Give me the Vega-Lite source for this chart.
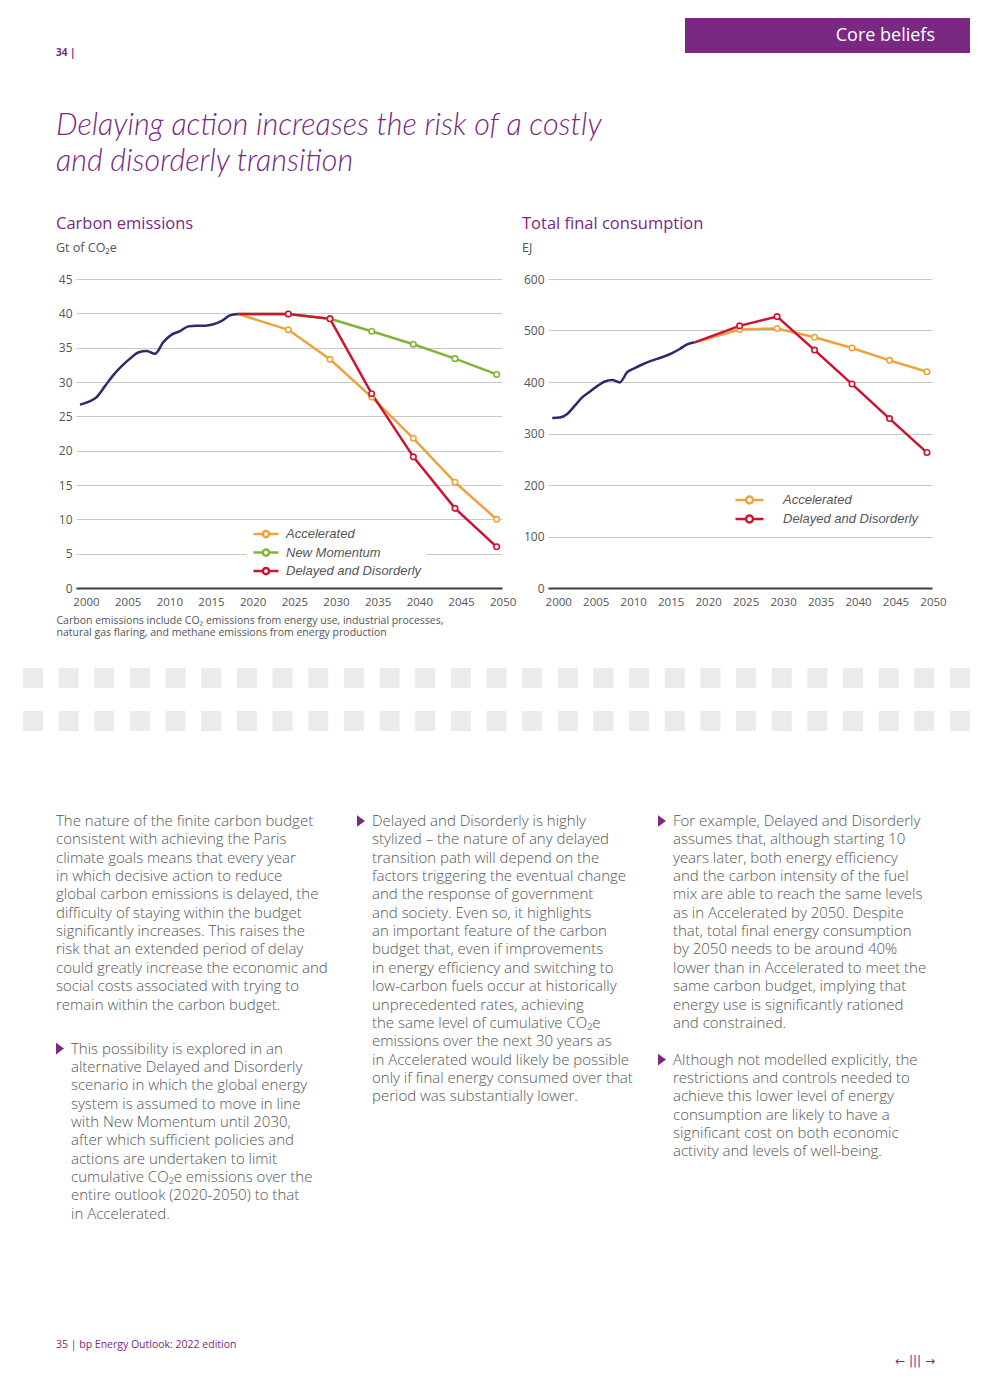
{
  "$schema": "https://vega.github.io/schema/vega-lite/v6.json",
  "background": "white",
  "padding": {"top": 18, "left": 0, "right": 0, "bottom": 0},
  "columns": 6,
  "spacing": 0,
  "bounds": "flush",
  "align": "each",
  "resolve": {"scale": {"color": "independent"}, "legend": {"color": "independent"}},
  "config": {"view": {"stroke": null}, "font": "Open Sans"},
  "concat": [
    {"width": 56, "height": 1, "data": {"values": []}, "mark": "text"},
    {"width": 20, "height": 1, "data": {"values": []}, "mark": "text"},
    {"width": 472, "height": 1, "data": {"values": []}, "mark": "text"},
    {"width": 137, "height": 1, "data": {"values": []}, "mark": "text"},
    {"width": 250, "height": 35, "view": {"fill": "#7a2982"}, "data": {"values": [{"label": "Core beliefs"}]},
     "mark": {"type": "text", "align": "right", "baseline": "middle", "font": "Open Sans", "fontSize": 18, "color": "white"},
     "encoding": {"text": {"field": "label"}, "x": {"value": "width"}, "y": {"field": "label", "type": "nominal", "axis": null}}},
    {"width": 35, "height": 35, "view": {"fill": "#7a2982"}, "data": {"values": []}, "mark": "text"},

    {"width": 1, "height": 58, "data": {"values": []}, "mark": "text"},
    {"width": 20, "height": 1, "data": {"values": [{"label": "34 |"}]},
     "mark": {"type": "text", "align": "left", "baseline": "middle", "font": "Open Sans", "fontSize": 10, "fontWeight": "bold", "color": "#7a2982"},
     "encoding": {"text": {"field": "label"}, "x": {"value": 0}, "y": {"value": 0}}},
    {"width": 1, "height": 1, "data": {"values": []}, "mark": "text"},
    {"width": 1, "height": 1, "data": {"values": []}, "mark": "text"},
    {"width": 1, "height": 1, "data": {"values": []}, "mark": "text"},
    {"width": 1, "height": 1, "data": {"values": []}, "mark": "text"},

    {"width": 1, "height": 168, "data": {"values": []}, "mark": "text"},
    {"width": 20, "height": 1, "data": {"values": [{"lines": ["Delaying action increases the risk of a costly", "and disorderly transition"]}]},
     "mark": {"type": "text", "align": "left", "baseline": "top", "font": "Lato", "fontStyle": "italic", "fontWeight": 300, "fontSize": 30.5, "lineHeight": 35.5, "color": "#7a2982"},
     "encoding": {"text": {"field": "lines"}, "x": {"value": 0}, "y": {"value": 0}}},
    {"width": 1, "height": 1, "data": {"values": []}, "mark": "text"},
    {"width": 1, "height": 1, "data": {"values": []}, "mark": "text"},
    {"width": 1, "height": 1, "data": {"values": []}, "mark": "text"},
    {"width": 1, "height": 1, "data": {"values": []}, "mark": "text"},

    {"width": 1, "height": 1, "data": {"values": []}, "mark": "text"},
    {"width": 1, "height": 1, "data": {"values": []}, "mark": "text"},
    {
      "width": 426, "height": 309,
      "title": {"text": "Carbon emissions", "subtitle": "Gt of CO₂e", "anchor": "start", "frame": "group", "dx": -20, "offset": 19, "font": "Open Sans", "fontSize": 16.5, "fontWeight": "normal", "color": "#7a2982", "subtitleFont": "Open Sans", "subtitleFontSize": 12.5, "subtitleColor": "#555555", "subtitlePadding": 9},
      "data": {"values": [
        {"series": "History", "year": 2000, "value": 26.7}, {"series": "History", "year": 2001, "value": 27.1}, {"series": "History", "year": 2002, "value": 27.8}, {"series": "History", "year": 2003, "value": 29.4}, {"series": "History", "year": 2004, "value": 31.0}, {"series": "History", "year": 2005, "value": 32.3}, {"series": "History", "year": 2006, "value": 33.4}, {"series": "History", "year": 2007, "value": 34.3}, {"series": "History", "year": 2008, "value": 34.5}, {"series": "History", "year": 2009, "value": 34.1}, {"series": "History", "year": 2010, "value": 35.8}, {"series": "History", "year": 2011, "value": 36.9}, {"series": "History", "year": 2012, "value": 37.4}, {"series": "History", "year": 2013, "value": 38.1}, {"series": "History", "year": 2014, "value": 38.2}, {"series": "History", "year": 2015, "value": 38.2}, {"series": "History", "year": 2016, "value": 38.4}, {"series": "History", "year": 2017, "value": 38.9}, {"series": "History", "year": 2018, "value": 39.7}, {"series": "History", "year": 2019, "value": 39.9},
        {"series": "New Momentum", "year": 2019, "value": 39.9}, {"series": "New Momentum", "year": 2025, "value": 39.9}, {"series": "New Momentum", "year": 2030, "value": 39.2}, {"series": "New Momentum", "year": 2035, "value": 37.4}, {"series": "New Momentum", "year": 2040, "value": 35.5}, {"series": "New Momentum", "year": 2045, "value": 33.4}, {"series": "New Momentum", "year": 2050, "value": 31.1},
        {"series": "Accelerated", "year": 2019, "value": 39.9}, {"series": "Accelerated", "year": 2025, "value": 37.6}, {"series": "Accelerated", "year": 2030, "value": 33.3}, {"series": "Accelerated", "year": 2035, "value": 27.8}, {"series": "Accelerated", "year": 2040, "value": 21.8}, {"series": "Accelerated", "year": 2045, "value": 15.4}, {"series": "Accelerated", "year": 2050, "value": 10.0},
        {"series": "Delayed and Disorderly", "year": 2019, "value": 39.9}, {"series": "Delayed and Disorderly", "year": 2025, "value": 39.9}, {"series": "Delayed and Disorderly", "year": 2030, "value": 39.2}, {"series": "Delayed and Disorderly", "year": 2035, "value": 28.3}, {"series": "Delayed and Disorderly", "year": 2040, "value": 19.1}, {"series": "Delayed and Disorderly", "year": 2045, "value": 11.6}, {"series": "Delayed and Disorderly", "year": 2050, "value": 6.0}
      ]},
      "encoding": {
        "x": {"field": "year", "type": "quantitative", "scale": {"domain": [1999.52, 2050.64], "nice": false, "zero": false},
          "axis": {"values": [2000, 2005, 2010, 2015, 2020, 2025, 2030, 2035, 2040, 2045, 2050], "format": "d", "grid": false, "ticks": false, "labelFlush": false, "labelOverlap": false, "labelOffset": 6, "labelPadding": 8, "labelFont": "Open Sans", "labelFontSize": 11.5, "labelColor": "#555555", "domainColor": "#3c3c3c", "domainWidth": 2,
            "title": ["Carbon emissions include CO₂ emissions from energy use, industrial processes,", "natural gas flaring, and methane emissions from energy production"],
            "titleFont": "Open Sans", "titleFontSize": 10.5, "titleFontWeight": "normal", "titleColor": "#555555", "titleAlign": "left", "titleAnchor": "start", "titleX": -20, "titleY": 27, "titleBaseline": "top", "titleLineHeight": 12}},
        "y": {"field": "value", "type": "quantitative", "scale": {"domain": [0, 45], "nice": false},
          "axis": {"values": [0, 5, 10, 15, 20, 25, 30, 35, 40, 45], "ticks": false, "domain": false, "gridColor": "#c9c9c9", "gridWidth": 1, "labelPadding": 4, "labelFont": "Open Sans", "labelFontSize": 12, "labelColor": "#555555", "title": null}}
      },
      "layer": [
        {"data": {"values": [{"year": 2019}]}, "mark": {"type": "rule", "color": "#333333", "strokeWidth": 1, "strokeDash": [4, 3]}, "encoding": {"y": {"datum": 0}, "y2": {"datum": 45}}},
        {"transform": [{"filter": "datum.series === 'History'"}], "mark": {"type": "line", "color": "#2f2a6b", "strokeWidth": 2.5, "interpolate": "monotone"}},
        {"transform": [{"filter": "datum.series !== 'History'"}], "mark": {"type": "line", "strokeWidth": 2.5},
         "encoding": {"color": {"field": "series", "type": "nominal",
           "scale": {"domain": ["Accelerated", "New Momentum", "Delayed and Disorderly"], "range": ["#f0a23a", "#7fb636", "#cc1332"]},
           "legend": {"title": null, "orient": "none", "legendX": 171, "legendY": 242, "direction": "vertical", "fillColor": "white", "padding": 5,
             "symbolType": "M-1,0H-0.25M0.25,0H1M0.25,0A0.25,0.25,0,1,1,-0.25,0A0.25,0.25,0,1,1,0.25,0", "symbolSize": 625, "symbolStrokeWidth": 2.5, "symbolFillColor": "white",
             "labelFont": "Liberation Sans", "labelFontStyle": "italic", "labelFontSize": 13, "labelColor": "#555555", "labelOffset": 6, "clipHeight": 16, "rowPadding": 2.5}}}},
        {"transform": [{"filter": "datum.series !== 'History' && datum.year >= 2025"}], "mark": {"type": "point", "filled": false, "fill": "white", "size": 30, "strokeWidth": 1.6, "opacity": 1},
         "encoding": {"color": {"field": "series", "type": "nominal"}}}
      ]
    },
    {
      "width": 137, "height": 309,
      "title": {"text": "Total final consumption", "subtitle": "EJ", "anchor": "start", "frame": "group", "dx": -26, "offset": 19, "font": "Open Sans", "fontSize": 16.5, "fontWeight": "normal", "color": "#7a2982", "subtitleFont": "Open Sans", "subtitleFontSize": 12.5, "subtitleColor": "#555555", "subtitlePadding": 9},
      "data": {"values": [
        {"series": "History", "year": 2000, "value": 330}, {"series": "History", "year": 2001, "value": 331}, {"series": "History", "year": 2002, "value": 338}, {"series": "History", "year": 2003, "value": 354}, {"series": "History", "year": 2004, "value": 370}, {"series": "History", "year": 2005, "value": 381}, {"series": "History", "year": 2006, "value": 392}, {"series": "History", "year": 2007, "value": 401}, {"series": "History", "year": 2008, "value": 404}, {"series": "History", "year": 2009, "value": 399}, {"series": "History", "year": 2010, "value": 419}, {"series": "History", "year": 2011, "value": 427}, {"series": "History", "year": 2012, "value": 434}, {"series": "History", "year": 2013, "value": 440}, {"series": "History", "year": 2014, "value": 445}, {"series": "History", "year": 2015, "value": 450}, {"series": "History", "year": 2016, "value": 456}, {"series": "History", "year": 2017, "value": 464}, {"series": "History", "year": 2018, "value": 473}, {"series": "History", "year": 2019, "value": 477},
        {"series": "Accelerated", "year": 2019, "value": 477}, {"series": "Accelerated", "year": 2025, "value": 502}, {"series": "Accelerated", "year": 2030, "value": 504}, {"series": "Accelerated", "year": 2035, "value": 487}, {"series": "Accelerated", "year": 2040, "value": 466}, {"series": "Accelerated", "year": 2045, "value": 442}, {"series": "Accelerated", "year": 2050, "value": 420},
        {"series": "Delayed and Disorderly", "year": 2019, "value": 477}, {"series": "Delayed and Disorderly", "year": 2025, "value": 509}, {"series": "Delayed and Disorderly", "year": 2030, "value": 527}, {"series": "Delayed and Disorderly", "year": 2035, "value": 462}, {"series": "Delayed and Disorderly", "year": 2040, "value": 396}, {"series": "Delayed and Disorderly", "year": 2045, "value": 329}, {"series": "Delayed and Disorderly", "year": 2050, "value": 263}
      ]},
      "encoding": {
        "x": {"field": "year", "type": "quantitative", "scale": {"domain": [1999.43, 2050.67], "range": [0, 384], "nice": false, "zero": false},
          "axis": {"values": [2000, 2005, 2010, 2015, 2020, 2025, 2030, 2035, 2040, 2045, 2050], "format": "d", "grid": false, "ticks": false, "labelFlush": false, "labelOverlap": false, "labelOffset": 6, "labelPadding": 8, "labelFont": "Open Sans", "labelFontSize": 11.5, "labelColor": "#555555", "domainColor": "#3c3c3c", "domainWidth": 2, "title": null}},
        "y": {"field": "value", "type": "quantitative", "scale": {"domain": [0, 600], "nice": false},
          "axis": {"values": [0, 100, 200, 300, 400, 500, 600], "ticks": false, "domain": false, "gridColor": "#c9c9c9", "gridWidth": 1, "labelPadding": 4, "labelFont": "Open Sans", "labelFontSize": 12, "labelColor": "#555555", "title": null}}
      },
      "layer": [
        {"data": {"values": [{"year": 2019}]}, "mark": {"type": "rule", "color": "#333333", "strokeWidth": 1, "strokeDash": [4, 3]}, "encoding": {"y": {"datum": 0}, "y2": {"datum": 600}}},
        {"transform": [{"filter": "datum.series === 'History'"}], "mark": {"type": "line", "color": "#2f2a6b", "strokeWidth": 2.5, "interpolate": "monotone"}},
        {"transform": [{"filter": "datum.series !== 'History'"}], "mark": {"type": "line", "strokeWidth": 2.5},
         "encoding": {"color": {"field": "series", "type": "nominal",
           "scale": {"domain": ["Accelerated", "Delayed and Disorderly"], "range": ["#f0a23a", "#cc1332"]},
           "legend": {"title": null, "orient": "none", "legendX": 181, "legendY": 208, "direction": "vertical", "fillColor": "white", "padding": 5,
             "symbolType": "M-1,0H-0.25M0.25,0H1M0.25,0A0.25,0.25,0,1,1,-0.25,0A0.25,0.25,0,1,1,0.25,0", "symbolSize": 784, "symbolStrokeWidth": 2.5, "symbolFillColor": "white",
             "labelFont": "Liberation Sans", "labelFontStyle": "italic", "labelFontSize": 13, "labelColor": "#555555", "labelOffset": 18, "clipHeight": 16, "rowPadding": 3}}}},
        {"transform": [{"filter": "datum.series !== 'History' && datum.year >= 2025"}], "mark": {"type": "point", "filled": false, "fill": "white", "size": 30, "strokeWidth": 1.6, "opacity": 1},
         "encoding": {"color": {"field": "series", "type": "nominal"}}}
      ]
    },
    {"width": 1, "height": 1, "data": {"values": []}, "mark": "text"},
    {"width": 1, "height": 1, "data": {"values": []}, "mark": "text"},

    {"width": 1, "height": 80, "data": {"values": []}, "mark": "text"},
    {"width": 1, "height": 1, "data": {"values": []}, "mark": "text"},
    {"width": 1, "height": 1, "data": {"values": []}, "mark": "text"},
    {"width": 1, "height": 1, "data": {"values": []}, "mark": "text"},
    {"width": 1, "height": 1, "data": {"values": []}, "mark": "text"},
    {"width": 1, "height": 1, "data": {"values": []}, "mark": "text"},

    {"width": 56, "height": 63,
     "data": {"values": [
       {"i": 1, "r": 1}, {"i": 2, "r": 1}, {"i": 3, "r": 1}, {"i": 4, "r": 1}, {"i": 5, "r": 1}, {"i": 6, "r": 1}, {"i": 7, "r": 1}, {"i": 8, "r": 1}, {"i": 9, "r": 1}, {"i": 10, "r": 1}, {"i": 11, "r": 1}, {"i": 12, "r": 1}, {"i": 13, "r": 1}, {"i": 14, "r": 1}, {"i": 15, "r": 1}, {"i": 16, "r": 1}, {"i": 17, "r": 1}, {"i": 18, "r": 1}, {"i": 19, "r": 1}, {"i": 20, "r": 1}, {"i": 21, "r": 1}, {"i": 22, "r": 1}, {"i": 23, "r": 1}, {"i": 24, "r": 1}, {"i": 25, "r": 1}, {"i": 26, "r": 1}, {"i": 27, "r": 1},
       {"i": 1, "r": 2}, {"i": 2, "r": 2}, {"i": 3, "r": 2}, {"i": 4, "r": 2}, {"i": 5, "r": 2}, {"i": 6, "r": 2}, {"i": 7, "r": 2}, {"i": 8, "r": 2}, {"i": 9, "r": 2}, {"i": 10, "r": 2}, {"i": 11, "r": 2}, {"i": 12, "r": 2}, {"i": 13, "r": 2}, {"i": 14, "r": 2}, {"i": 15, "r": 2}, {"i": 16, "r": 2}, {"i": 17, "r": 2}, {"i": 18, "r": 2}, {"i": 19, "r": 2}, {"i": 20, "r": 2}, {"i": 21, "r": 2}, {"i": 22, "r": 2}, {"i": 23, "r": 2}, {"i": 24, "r": 2}, {"i": 25, "r": 2}, {"i": 26, "r": 2}, {"i": 27, "r": 2}
     ]},
     "mark": {"type": "rect", "color": "#ebebeb"},
     "encoding": {
       "x": {"field": "i", "type": "ordinal", "scale": {"range": [23, 970], "paddingInner": 0.4384, "paddingOuter": 0}, "axis": null},
       "y": {"field": "r", "type": "ordinal", "scale": {"paddingInner": 0.535, "paddingOuter": 0}, "axis": null}
     }},
    {"width": 1, "height": 1, "data": {"values": []}, "mark": "text"},
    {"width": 1, "height": 1, "data": {"values": []}, "mark": "text"},
    {"width": 1, "height": 1, "data": {"values": []}, "mark": "text"},
    {"width": 1, "height": 1, "data": {"values": []}, "mark": "text"},
    {"width": 1, "height": 1, "data": {"values": []}, "mark": "text"},

    {"width": 1, "height": 79, "data": {"values": []}, "mark": "text"},
    {"width": 1, "height": 1, "data": {"values": []}, "mark": "text"},
    {"width": 1, "height": 1, "data": {"values": []}, "mark": "text"},
    {"width": 1, "height": 1, "data": {"values": []}, "mark": "text"},
    {"width": 1, "height": 1, "data": {"values": []}, "mark": "text"},
    {"width": 1, "height": 1, "data": {"values": []}, "mark": "text"},

    {"width": 1, "height": 1, "data": {"values": []}, "mark": "text"},
    {"width": 20, "height": 530,
     "data": {"values": [
       {"col": 1, "line": 0, "kind": "lead", "text": "The nature of the finite carbon budget"},
       {"col": 1, "line": 1, "kind": "lead", "text": "consistent with achieving the Paris"},
       {"col": 1, "line": 2, "kind": "lead", "text": "climate goals means that every year"},
       {"col": 1, "line": 3, "kind": "lead", "text": "in which decisive action to reduce"},
       {"col": 1, "line": 4, "kind": "lead", "text": "global carbon emissions is delayed, the"},
       {"col": 1, "line": 5, "kind": "lead", "text": "difficulty of staying within the budget"},
       {"col": 1, "line": 6, "kind": "lead", "text": "significantly increases. This raises the"},
       {"col": 1, "line": 7, "kind": "lead", "text": "risk that an extended period of delay"},
       {"col": 1, "line": 8, "kind": "lead", "text": "could greatly increase the economic and"},
       {"col": 1, "line": 9, "kind": "lead", "text": "social costs associated with trying to"},
       {"col": 1, "line": 10, "kind": "lead", "text": "remain within the carbon budget."},
       {"col": 1, "line": 12.4, "kind": "point", "text": "This possibility is explored in an"},
       {"col": 1, "line": 13.4, "kind": "point", "text": "alternative Delayed and Disorderly"},
       {"col": 1, "line": 14.4, "kind": "point", "text": "scenario in which the global energy"},
       {"col": 1, "line": 15.4, "kind": "point", "text": "system is assumed to move in line"},
       {"col": 1, "line": 16.4, "kind": "point", "text": "with New Momentum until 2030,"},
       {"col": 1, "line": 17.4, "kind": "point", "text": "after which sufficient policies and"},
       {"col": 1, "line": 18.4, "kind": "point", "text": "actions are undertaken to limit"},
       {"col": 1, "line": 19.4, "kind": "point", "text": "cumulative CO₂e emissions over the"},
       {"col": 1, "line": 20.4, "kind": "point", "text": "entire outlook (2020-2050) to that"},
       {"col": 1, "line": 21.4, "kind": "point", "text": "in Accelerated."},
       {"col": 2, "line": 0, "kind": "point", "text": "Delayed and Disorderly is highly"},
       {"col": 2, "line": 1, "kind": "point", "text": "stylized – the nature of any delayed"},
       {"col": 2, "line": 2, "kind": "point", "text": "transition path will depend on the"},
       {"col": 2, "line": 3, "kind": "point", "text": "factors triggering the eventual change"},
       {"col": 2, "line": 4, "kind": "point", "text": "and the response of government"},
       {"col": 2, "line": 5, "kind": "point", "text": "and society. Even so, it highlights"},
       {"col": 2, "line": 6, "kind": "point", "text": "an important feature of the carbon"},
       {"col": 2, "line": 7, "kind": "point", "text": "budget that, even if improvements"},
       {"col": 2, "line": 8, "kind": "point", "text": "in energy efficiency and switching to"},
       {"col": 2, "line": 9, "kind": "point", "text": "low-carbon fuels occur at historically"},
       {"col": 2, "line": 10, "kind": "point", "text": "unprecedented rates, achieving"},
       {"col": 2, "line": 11, "kind": "point", "text": "the same level of cumulative CO₂e"},
       {"col": 2, "line": 12, "kind": "point", "text": "emissions over the next 30 years as"},
       {"col": 2, "line": 13, "kind": "point", "text": "in Accelerated would likely be possible"},
       {"col": 2, "line": 14, "kind": "point", "text": "only if final energy consumed over that"},
       {"col": 2, "line": 15, "kind": "point", "text": "period was substantially lower."},
       {"col": 3, "line": 0, "kind": "point", "text": "For example, Delayed and Disorderly"},
       {"col": 3, "line": 1, "kind": "point", "text": "assumes that, although starting 10"},
       {"col": 3, "line": 2, "kind": "point", "text": "years later, both energy efficiency"},
       {"col": 3, "line": 3, "kind": "point", "text": "and the carbon intensity of the fuel"},
       {"col": 3, "line": 4, "kind": "point", "text": "mix are able to reach the same levels"},
       {"col": 3, "line": 5, "kind": "point", "text": "as in Accelerated by 2050. Despite"},
       {"col": 3, "line": 6, "kind": "point", "text": "that, total final energy consumption"},
       {"col": 3, "line": 7, "kind": "point", "text": "by 2050 needs to be around 40%"},
       {"col": 3, "line": 8, "kind": "point", "text": "lower than in Accelerated to meet the"},
       {"col": 3, "line": 9, "kind": "point", "text": "same carbon budget, implying that"},
       {"col": 3, "line": 10, "kind": "point", "text": "energy use is significantly rationed"},
       {"col": 3, "line": 11, "kind": "point", "text": "and constrained."},
       {"col": 3, "line": 13, "kind": "point", "text": "Although not modelled explicitly, the"},
       {"col": 3, "line": 14, "kind": "point", "text": "restrictions and controls needed to"},
       {"col": 3, "line": 15, "kind": "point", "text": "achieve this lower level of energy"},
       {"col": 3, "line": 16, "kind": "point", "text": "consumption are likely to have a"},
       {"col": 3, "line": 17, "kind": "point", "text": "significant cost on both economic"},
       {"col": 3, "line": 18, "kind": "point", "text": "activity and levels of well-being."}
     ]},
     "encoding": {
       "x": {"field": "col", "type": "quantitative", "scale": {"domain": [1, 3], "range": [0, 602], "nice": false, "zero": false}, "axis": null},
       "y": {"field": "line", "type": "quantitative", "scale": {"domain": [-0.6, 28.28], "nice": false, "zero": false, "reverse": true}, "axis": null}
     },
     "layer": [
       {"transform": [{"filter": "datum.kind === 'lead'"}], "mark": {"type": "text", "align": "left", "baseline": "middle", "font": "Open Sans", "fontWeight": 300, "fontSize": 15, "color": "#555555"}, "encoding": {"text": {"field": "text"}}},
       {"transform": [{"filter": "datum.kind === 'point'"}], "mark": {"type": "text", "align": "left", "baseline": "middle", "font": "Open Sans", "fontWeight": 300, "fontSize": 15, "color": "#555555", "dx": 15}, "encoding": {"text": {"field": "text"}}},
       {"data": {"values": [{"col": 1, "line": 12.4}, {"col": 2, "line": 0}, {"col": 3, "line": 0}, {"col": 3, "line": 13}]},
        "mark": {"type": "point", "shape": "M0,-1L1.38,0L0,1Z", "size": 135, "filled": true, "color": "#7a2982", "opacity": 1, "strokeWidth": 0}}
     ]},
    {"width": 1, "height": 1, "data": {"values": []}, "mark": "text"},
    {"width": 1, "height": 1, "data": {"values": []}, "mark": "text"},
    {"width": 1, "height": 1, "data": {"values": []}, "mark": "text"},
    {"width": 1, "height": 1, "data": {"values": []}, "mark": "text"},

    {"width": 1, "height": 1, "data": {"values": []}, "mark": "text"},
    {"width": 20, "height": 28, "data": {"values": [{"label": "35 | bp Energy Outlook: 2022 edition"}]},
     "mark": {"type": "text", "align": "left", "baseline": "top", "font": "Open Sans", "fontSize": 10.5, "color": "#7a2982"},
     "encoding": {"text": {"field": "label"}, "x": {"value": 0}, "y": {"value": 0}}},
    {"width": 1, "height": 1, "data": {"values": []}, "mark": "text"},
    {"width": 1, "height": 1, "data": {"values": []}, "mark": "text"},
    {"width": 250, "height": 28, "data": {"values": [{"label": "←  |||  →"}]},
     "mark": {"type": "text", "align": "right", "baseline": "bottom", "font": "DejaVu Sans", "fontSize": 12, "color": "#7a2982"},
     "encoding": {"text": {"field": "label"}, "x": {"value": "width"}, "y": {"value": "height"}}},
    {"width": 1, "height": 1, "data": {"values": []}, "mark": "text"}
  ]
}
